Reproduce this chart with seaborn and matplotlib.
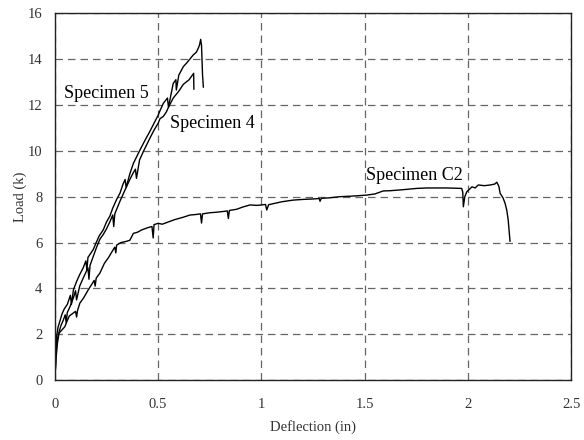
import matplotlib
matplotlib.use("Agg")
import matplotlib.pyplot as plt
import seaborn as sns
import pandas as pd

# ---- data ----
c2_x = [0, 0.005, 0.012, 0.02, 0.035, 0.048, 0.06, 0.07, 0.085, 0.1, 0.105, 0.11, 0.121, 0.14,
        0.161, 0.18, 0.19, 0.195, 0.2, 0.218, 0.24, 0.26, 0.281, 0.29, 0.295, 0.299, 0.32, 0.345,
        0.363, 0.38, 0.4, 0.42, 0.45, 0.47, 0.476, 0.48, 0.5, 0.52, 0.55, 0.58, 0.6, 0.62, 0.654,
        0.68, 0.705, 0.71, 0.715, 0.75, 0.78, 0.8, 0.82, 0.835, 0.84, 0.845, 0.88, 0.91, 0.945,
        0.98, 1.0, 1.02, 1.026, 1.035, 1.06, 1.1, 1.153, 1.2, 1.25, 1.28, 1.284, 1.29, 1.33, 1.38,
        1.45, 1.51, 1.55, 1.59, 1.623, 1.68, 1.752, 1.8, 1.9, 1.97, 1.975, 1.978, 1.985, 1.995,
        2.02, 2.035, 2.05, 2.08, 2.108, 2.13, 2.14, 2.15, 2.156, 2.17, 2.18, 2.188, 2.195, 2.204]
c2_y = [0, 0.9, 1.6, 2.05, 2.2, 2.33, 2.6, 2.8, 2.9, 3.0, 2.75, 3.05, 3.36, 3.6,
        3.93, 4.2, 4.35, 4.1, 4.45, 4.67, 5.1, 5.35, 5.67, 5.8, 5.55, 5.89, 6.0, 6.05,
        6.1, 6.4, 6.45, 6.55, 6.65, 6.7, 6.2, 6.78, 6.84, 6.8, 6.9, 7.0, 7.05, 7.1, 7.2,
        7.22, 7.25, 6.85, 7.25, 7.3, 7.32, 7.34, 7.36, 7.38, 7.05, 7.4, 7.45, 7.55, 7.64,
        7.62, 7.64, 7.66, 7.42, 7.65, 7.7, 7.78, 7.85, 7.88, 7.9, 7.92, 7.8, 7.93, 7.95, 8.0,
        8.03, 8.07, 8.12, 8.25, 8.26, 8.3, 8.36, 8.38, 8.38, 8.36, 8.2, 7.56, 8.0, 8.22,
        8.43, 8.38, 8.51, 8.48, 8.51, 8.55, 8.63, 8.45, 8.15, 7.95, 7.71, 7.42, 7.0, 6.05]

s4_x = [0, 0.005, 0.01, 0.02, 0.03, 0.04, 0.05, 0.055, 0.06, 0.073, 0.09, 0.1, 0.105, 0.12,
        0.137, 0.15, 0.16, 0.165, 0.17, 0.186, 0.2, 0.218, 0.234, 0.25, 0.266, 0.28, 0.285,
        0.29, 0.315, 0.34, 0.363, 0.38, 0.39, 0.395, 0.41, 0.43, 0.46, 0.48, 0.5, 0.509, 0.525,
        0.54, 0.55, 0.573, 0.6, 0.622, 0.65, 0.672, 0.673]
s4_y = [0, 1.0, 1.7, 2.1, 2.4, 2.6, 2.85, 2.5, 2.95, 3.2, 3.6, 3.9, 3.5, 4.1,
        4.45, 4.7, 4.9, 4.4, 5.0, 5.4, 5.75, 6.15, 6.35, 6.6, 6.9, 7.2, 6.7,
        7.25, 7.8, 8.3, 8.75, 9.05, 9.2, 8.8, 9.6, 10.0, 10.55, 10.9, 11.2, 11.4, 11.5,
        11.7, 11.9, 12.3, 12.6, 12.9, 13.1, 13.38, 12.68]

s5_x = [0, 0.004, 0.008, 0.015, 0.025, 0.035, 0.045, 0.06, 0.075, 0.08, 0.09, 0.105, 0.12,
        0.137, 0.15, 0.155, 0.16, 0.186, 0.2, 0.215, 0.234, 0.25, 0.266, 0.28, 0.3, 0.315,
        0.33, 0.34, 0.345, 0.363, 0.38, 0.41, 0.43, 0.46, 0.48, 0.5, 0.509, 0.525, 0.545,
        0.55, 0.573, 0.586, 0.588, 0.6, 0.622, 0.64, 0.67, 0.685, 0.694, 0.7, 0.706, 0.71,
        0.715, 0.719]
s5_y = [0, 1.2, 1.9, 2.3, 2.6, 2.9, 3.1, 3.3, 3.7, 3.3, 3.95, 4.3, 4.6,
        4.9, 5.2, 4.8, 5.35, 5.7, 6.0, 6.3, 6.55, 6.9, 7.15, 7.5, 7.9, 8.15,
        8.55, 8.75, 8.4, 9.0, 9.45, 10.0, 10.35, 10.85, 11.2, 11.55, 11.75, 12.07, 12.3,
        11.9, 12.94, 13.1, 12.65, 13.3, 13.67, 13.85, 14.18, 14.3, 14.47, 14.6, 14.86, 14.6,
        13.3, 12.77]

labels = ["Specimen 5", "Specimen 4", "Specimen C2"]
label_x = [0.045, 0.555, 1.505]
label_y = [12.52, 11.17, 8.94]

x_ticks = [0, 0.5, 1, 1.5, 2, 2.5]
x_tick_labels = ["0", "0.5", "1", "1.5", "2", "2.5"]
y_ticks = [0, 2, 4, 6, 8, 10, 12, 14, 16]

# ---- plot ----
sns.set_style("white")
plt.rcParams["font.family"] = ["Liberation Serif", "DejaVu Serif"]

fig = plt.figure(figsize=(5.84, 4.4), dpi=100)
ax = fig.add_axes([0.094, 0.136, 0.884, 0.834])

for xs, ys in [(s5_x, s5_y), (s4_x, s4_y), (c2_x, c2_y)]:
    df = pd.DataFrame({"x": xs, "y": ys})
    sns.lineplot(data=df, x="x", y="y", sort=False, estimator=None, color="black",
                 linewidth=1.0, ax=ax)

for t, lx, ly in zip(labels, label_x, label_y):
    ax.text(lx, ly, t, fontsize=13, va="center", ha="left", color="black")

ax.set_xlim(0, 2.5)
ax.set_ylim(0, 16)
ax.set_xticks(x_ticks)
ax.set_xticklabels(x_tick_labels)
ax.set_yticks(y_ticks)
ax.grid(True, which="major", linestyle=(0, (6, 4)), color="#666666", linewidth=0.9)
ax.set_axisbelow(True)
ax.tick_params(axis="both", length=0, labelsize=10.5, labelcolor="#333333")
ax.tick_params(axis="x", pad=13)
ax.tick_params(axis="y", pad=9)
ax.set_xlabel("Deflection (in)", fontsize=10.5, color="#333333", va="center")
ax.set_ylabel("Load (k)", fontsize=10.5, color="#333333", va="center")
ax.xaxis.set_label_coords(0.5, -0.128)
ax.yaxis.set_label_coords(-0.068, 0.5)
for side in ["left", "bottom", "top", "right"]:
    ax.spines[side].set_visible(True)
    ax.spines[side].set_color("#222222")
    ax.spines[side].set_linewidth(1.0)

fig.savefig("out.png", dpi=100)
